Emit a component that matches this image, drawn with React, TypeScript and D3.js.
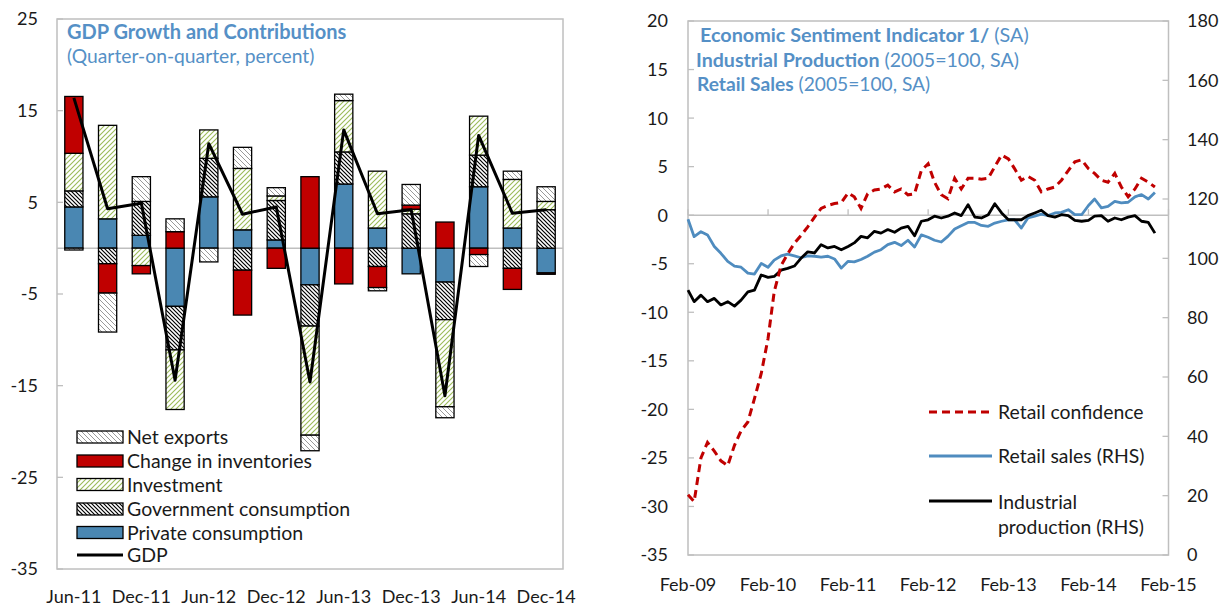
import React from "react";
import * as d3 from "d3";

// ---- left panel: GDP growth and contributions (q/q, percent)
const quarters = ["Jun-11", "Sep-11", "Dec-11", "Mar-12", "Jun-12", "Sep-12", "Dec-12", "Mar-13",
  "Jun-13", "Sep-13", "Dec-13", "Mar-14", "Jun-14", "Sep-14", "Dec-14"];
const privateCons = [4.5, 3.2, 1.4, -6.35, 5.6, 2.0, 0.9, -4.0, 7.0, 2.2, -2.8, -3.7, 6.7, 2.2, -2.7];
const govCons = [1.75, -1.7, 3.7, -4.75, 4.2, -2.4, 4.3, -4.5, 3.5, -2.0, 3.75, -4.1, 3.45, -2.2, 4.2];
const investment = [4.1, 10.2, -1.9, -6.5, 3.1, 6.7, 0.5, -11.9, 5.6, 6.2, 0.5, -9.5, 4.25, 5.3, 0.9];
const inventories = [6.2, -3.2, -0.9, 1.8, 0, -4.9, -2.2, 7.8, -3.9, -2.3, 0.45, 2.85, -0.7, -2.3, -0.15];
const netExports = [-0.2, -4.25, 2.7, 1.4, -1.5, 2.3, 0.9, -1.7, 0.7, -0.35, 2.25, -1.2, -1.3, 0.9, 1.6];
const gdp = [16.4, 4.3, 4.9, -14.4, 11.4, 3.7, 4.5, -14.6, 12.9, 3.75, 4.2, -16.1, 12.3, 3.8, 4.2];
const leftTicks = [25, 15, 5, -5, -15, -25, -35];
const quarterLabels = ["Jun-11", "Dec-11", "Jun-12", "Dec-12", "Jun-13", "Dec-13", "Jun-14", "Dec-14"];

// ---- right panel: monthly, Feb-09 .. Dec-14
const retailConfidence = [-28.8, -29.5, -25.0, -23.4, -24.3, -25.3, -25.8, -23.7, -22.2, -21.3,
  -18.9, -16.3, -12.7, -7.9, -5.2, -4.0, -2.9, -2.1, -1.2, -0.2,
  0.7, 1.0, 1.2, 1.3, 2.3, 1.9, 0.7, 2.2, 2.6, 2.7,
  3.1, 2.4, 2.7, 2.1, 2.2, 4.6, 5.3, 3.4, 2.1, 1.7,
  3.8, 2.7, 3.8, 3.8, 3.7, 3.8, 5.0, 6.2, 5.8, 4.8,
  3.6, 4.0, 3.6, 2.4, 2.7, 2.9, 3.6, 4.6, 5.5, 5.7,
  4.8, 4.3, 3.6, 3.4, 4.3, 2.9, 1.9, 2.7, 3.8, 3.4, 2.9];
const retailSales = [113.2, 107.3, 109.0, 107.9, 104.0, 101.7, 99.0, 97.4, 97.0, 95.0,
  94.7, 98.3, 97.0, 99.4, 100.8, 101.4, 100.8, 100.2, 100.8, 100.7,
  100.4, 100.7, 99.8, 96.7, 99, 98.8, 99.6, 100.7, 102.1, 102.9,
  104.6, 105.4, 104.3, 106.1, 103.8, 107.9, 107.1, 106.1, 105.5, 107.4,
  109.9, 111, 112.1, 112.1, 111.1, 110.8, 111.9, 112.5, 113, 113,
  110.2, 113.6, 114.2, 114.9, 114.4, 115.3, 115.5, 116.4, 114.7, 114.7,
  117.8, 120, 117, 117.5, 119.2, 118.7, 118.9, 120.7, 121.5, 120, 122.2];
const industrialProd = [89.3, 85.4, 87.6, 85.4, 86.5, 84.3, 85.4, 83.9, 85.9, 88.7,
  89.3, 94.4, 93.6, 93.9, 96.0, 96.6, 97.4, 100.0, 102.2, 101.8,
  104.6, 103.5, 104, 102.9, 104, 105.2, 107.4, 106.9, 109.1, 108.5,
  109.7, 108.8, 110.2, 110.8, 107.6, 112.5, 113, 114.2, 113.6, 114.2,
  115.3, 114.4, 118.1, 113.9, 113.6, 114.7, 118.4, 115.3, 113, 113,
  113, 114.4, 115.3, 116.2, 114.4, 113.9, 114.7, 114.4, 112.8, 112.5,
  112.8, 114.2, 114.4, 112.5, 113.6, 113, 113.9, 114.4, 112.5, 112.1, 108.5];
const rightLeftTicks = [20, 15, 10, 5, 0, -5, -10, -15, -20, -25, -30, -35];
const rightRightTicks = [180, 160, 140, 120, 100, 80, 60, 40, 20, 0];

const FONT = "Lato, 'Open Sans', sans-serif";
const BLUE = "#4a87b2";
const RED = "#c00000";
const TITLE = "#5590c6";
const GRID = "#bfbfbf";
const TEXT = "#1a1a1a";

function GdpPanel() {
  const left = 57, right = 563, top = 19, bottom = 569;
  const x = d3.scaleBand().domain(quarters).range([left, right]).paddingInner(0.46).paddingOuter(0.23);
  const y = d3.scaleLinear().domain([-35, 25]).range([bottom, top]);

  const keys = ["private", "government", "investment", "inventories", "netExports"];
  const table = quarters.map((q, i) => ({
    quarter: q,
    private: privateCons[i],
    government: govCons[i],
    investment: investment[i],
    inventories: inventories[i],
    netExports: netExports[i],
  }));
  const layers = d3.stack().keys(keys).offset(d3.stackOffsetDiverging)(table as any);
  const fills: Record<string, string> = {
    private: BLUE,
    government: "url(#govHatch)",
    investment: "url(#invHatch)",
    inventories: RED,
    netExports: "url(#nxHatch)",
  };

  const line = d3.line<number>()
    .x((d, i) => (x(quarters[i]) as number) + x.bandwidth() / 2)
    .y((d) => y(d));

  const legend = [
    { label: "Net exports", fill: "url(#nxHatch)" },
    { label: "Change in inventories", fill: RED },
    { label: "Investment", fill: "url(#invHatch)" },
    { label: "Government consumption", fill: "url(#govHatch)" },
    { label: "Private consumption", fill: BLUE },
  ];
  const legendY = [437, 461, 484.5, 509, 532.5];

  return (
    <g>
      <rect x={left} y={top} width={right - left} height={bottom - top} fill="#fff" stroke={GRID} strokeWidth={1.5} />
      {leftTicks.map((t) => (
        <g key={t}>
          <line x1={left} x2={left + 6} y1={y(t)} y2={y(t)} stroke={GRID} strokeWidth={1.3} />
          <text x={38} y={y(t)} dy="0.36em" textAnchor="end" fontSize={18} fill={TEXT}>{t}</text>
        </g>
      ))}
      <line x1={left} x2={right} y1={y(0)} y2={y(0)} stroke={GRID} strokeWidth={1.5} />
      {layers.map((layer) =>
        layer.map((d, i) => {
          const h = Math.abs(y(d[0]) - y(d[1]));
          if (h < 0.5) return null;
          return (
            <rect key={layer.key + i} x={x(quarters[i])} y={y(Math.max(d[0], d[1]))}
              width={x.bandwidth()} height={h} fill={fills[layer.key]} stroke="#000" strokeWidth={1.3} />
          );
        })
      )}
      <path d={line(gdp) || ""} fill="none" stroke="#000" strokeWidth={3} strokeLinejoin="round" />
      {quarterLabels.map((q) => (
        <text key={q} x={(x(q) as number) + x.bandwidth() / 2} y={603} textAnchor="middle" fontSize={18} fill={TEXT}>{q}</text>
      ))}
      <text x={67} y={39} fontSize={20} fontWeight="bold" fill={TITLE}>GDP Growth and Contributions</text>
      <text x={67} y={63} fontSize={19.3} fill={TITLE}>(Quarter-on-quarter, percent)</text>
      {legend.map((l, i) => (
        <g key={l.label}>
          <rect x={77} y={legendY[i] - 6} width={46} height={12} fill={l.fill} stroke="#000" strokeWidth={1.3} />
          <text x={127} y={legendY[i]} dy="0.36em" fontSize={19.5} fill={TEXT}>{l.label}</text>
        </g>
      ))}
      <line x1={77} x2={123} y1={555} y2={555} stroke="#000" strokeWidth={3} />
      <text x={127} y={555} dy="0.36em" fontSize={19.5} fill={TEXT}>GDP</text>
    </g>
  );
}

function IndicatorPanel() {
  const left = 688, right = 1168.5, top = 21, bottom = 555;
  const start = new Date(2009, 1, 1);
  const months = d3.range(retailSales.length).map((i) => d3.timeMonth.offset(start, i));
  const x = d3.scaleTime().domain([start, new Date(2015, 1, 1)]).range([left, right]);
  const yL = d3.scaleLinear().domain([-35, 20]).range([bottom, top]);
  const yR = d3.scaleLinear().domain([0, 180]).range([bottom, top]);
  const years = d3.timeYear.range(new Date(2009, 0, 1), new Date(2015, 1, 1)).map((d) => d3.timeMonth.offset(d, 1));
  const fmt = d3.timeFormat("%b-%y");

  const lineL = d3.line<number>().x((d, i) => x(months[i])).y((d) => yL(d));
  const lineR = d3.line<number>().x((d, i) => x(months[i])).y((d) => yR(d));

  return (
    <g>
      <rect x={left} y={top} width={right - left} height={bottom - top} fill="#fff" stroke={GRID} strokeWidth={1.5} />
      {rightLeftTicks.map((t) => (
        <g key={"l" + t}>
          <line x1={left} x2={left + 6} y1={yL(t)} y2={yL(t)} stroke={GRID} strokeWidth={1.3} />
          <text x={668} y={yL(t)} dy="0.36em" textAnchor="end" fontSize={18} fill={TEXT}>{t}</text>
        </g>
      ))}
      {rightRightTicks.map((t) => (
        <g key={"r" + t}>
          <line x1={right - 6} x2={right} y1={yR(t)} y2={yR(t)} stroke={GRID} strokeWidth={1.3} />
          <text x={1187} y={yR(t)} dy="0.36em" fontSize={18} fill={TEXT}>{t}</text>
        </g>
      ))}
      <line x1={left} x2={right} y1={yL(0)} y2={yL(0)} stroke={GRID} strokeWidth={1.5} />
      {years.map((d) => (
        <g key={+d}>
          <line x1={x(d)} x2={x(d)} y1={yL(0)} y2={yL(0) - 6} stroke={GRID} strokeWidth={1.3} />
          <text x={x(d)} y={591} textAnchor="middle" fontSize={18} fill={TEXT}>{fmt(d)}</text>
        </g>
      ))}
      <path d={lineR(retailSales) || ""} fill="none" stroke="#4f8cbf" strokeWidth={2.8} strokeLinejoin="round" />
      <path d={lineR(industrialProd) || ""} fill="none" stroke="#000" strokeWidth={2.8} strokeLinejoin="round" />
      <path d={lineL(retailConfidence) || ""} fill="none" stroke={RED} strokeWidth={3} strokeDasharray="8,5" />

      <text x={700} y={42} fontSize={19.8} fill={TITLE}>
        <tspan fontWeight="bold">Economic Sentiment Indicator 1/</tspan><tspan> (SA)</tspan>
      </text>
      <text x={696} y={67} fontSize={19.6} fill={TITLE}>
        <tspan fontWeight="bold">Industrial Production</tspan><tspan> (2005=100, SA)</tspan>
      </text>
      <text x={697} y={91} fontSize={19.2} fill={TITLE}>
        <tspan fontWeight="bold">Retail Sales</tspan><tspan> (2005=100, SA)</tspan>
      </text>

      <line x1={929} x2={992} y1={412} y2={412} stroke={RED} strokeWidth={3} strokeDasharray="8,5" />
      <text x={998} y={412} dy="0.36em" fontSize={19.4} fill={TEXT}>Retail confidence</text>
      <line x1={929} x2={992} y1={456} y2={456} stroke="#4f8cbf" strokeWidth={3} />
      <text x={998} y={456} dy="0.36em" fontSize={19.4} fill={TEXT}>Retail sales (RHS)</text>
      <line x1={929} x2={992} y1={501} y2={501} stroke="#000" strokeWidth={3} />
      <text x={998} y={502} dy="0.36em" fontSize={19.4} fill={TEXT}>Industrial</text>
      <text x={998} y={527} dy="0.36em" fontSize={19.4} fill={TEXT}>production (RHS)</text>
    </g>
  );
}

export default function App() {
  return (
    <div style={{ position: "absolute", left: 0, top: 0 }}>
      <svg width={1228} height={608} style={{ display: "block", fontFamily: FONT }}>
        <defs>
          <pattern id="govHatch" width={4} height={4} patternUnits="userSpaceOnUse">
            <rect width={4} height={4} fill="#fff" />
            <path d="M0,0 L4,4 M-1,3 L1,5 M3,-1 L5,1" stroke="#000" strokeWidth={1.2} />
          </pattern>
          <pattern id="invHatch" width={5} height={5} patternUnits="userSpaceOnUse">
            <rect width={5} height={5} fill="#fff" />
            <path d="M0,5 L5,0 M-1,1 L1,-1 M4,6 L6,4" stroke="#9bbb59" strokeWidth={1.1} />
          </pattern>
          <pattern id="nxHatch" width={5} height={5} patternUnits="userSpaceOnUse">
            <rect width={5} height={5} fill="#fff" />
            <path d="M0,0 L5,5 M-1,4 L1,6 M4,-1 L6,1" stroke="#9a9a9a" strokeWidth={1} />
          </pattern>
        </defs>
        <rect width={1228} height={608} fill="#fff" />
        <GdpPanel />
        <IndicatorPanel />
      </svg>
    </div>
  );
}
